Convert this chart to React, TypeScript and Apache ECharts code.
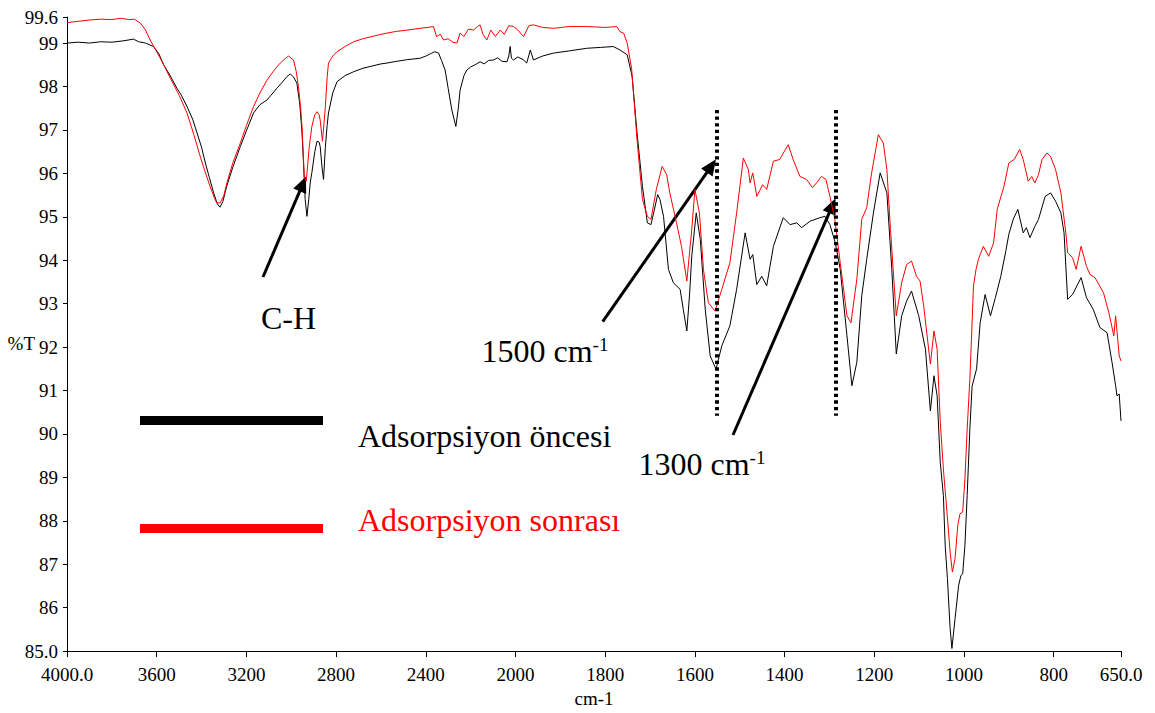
import React, { useEffect, useRef } from "react";
import * as echarts from "echarts";

// ---- Data (wavenumber cm-1, %T) ----
const blackWn = [
  4000, 3950, 3900, 3850, 3800, 3750, 3704, 3680, 3650, 3614, 3590, 3569, 3540, 3510, 3490, 3465, 3440, 3420, 3400, 3383,
  3365, 3346, 3330, 3318, 3305, 3288, 3260, 3227, 3200, 3168, 3140, 3108, 3090, 3064, 3040, 3019, 3005, 2990, 2975, 2962,
  2952, 2945, 2938, 2930, 2922, 2915, 2908, 2895, 2885, 2876, 2871, 2862, 2856, 2848, 2840, 2834, 2815, 2796, 2760, 2722,
  2680, 2640, 2600, 2573, 2530, 2480, 2425, 2400, 2373, 2360, 2343, 2330, 2314, 2300, 2284, 2266, 2255, 2247, 2230, 2217,
  2200, 2180, 2158, 2140, 2120, 2098, 2080, 2060, 2038, 2030, 2024, 2018, 2009, 1995, 1983, 1975, 1967, 1960, 1940, 1915,
  1880, 1841, 1810, 1782, 1767, 1751, 1740, 1729, 1717, 1706, 1698, 1692, 1683, 1678, 1670, 1659, 1648, 1633, 1626, 1618,
  1612, 1607, 1597, 1588, 1577, 1566, 1553, 1540, 1522, 1507, 1488, 1477, 1471, 1462, 1451, 1440, 1425, 1403, 1388, 1373,
  1362, 1343, 1321, 1310, 1299, 1287, 1276, 1261, 1250, 1239, 1228, 1217, 1202, 1187, 1172, 1161, 1151, 1139, 1128, 1117,
  1101, 1086, 1075, 1067, 1060, 1053, 1046, 1042, 1037, 1031, 1027, 1020, 1012, 1007, 1003, 998, 993, 987, 982, 972,
  964, 953, 941, 930, 918, 907, 900, 890, 880, 868, 861, 853, 842, 834, 819, 807, 796, 784, 777, 769,
  758, 739, 727, 712, 697, 681, 670, 662, 659, 654, 650,
];
const blackT = [
  99.0, 99.02, 99.0, 99.03, 99.02, 99.05, 99.09, 99.03, 99.0, 98.92, 98.75, 98.5, 98.25, 97.96, 97.8, 97.54, 97.25, 96.93, 96.6, 96.24,
  95.9, 95.55, 95.3, 95.22, 95.35, 95.7, 96.15, 96.62, 96.98, 97.39, 97.58, 97.69, 97.8, 97.96, 98.1, 98.23, 98.29, 98.22, 98.08, 97.6,
  96.93, 96.2, 95.4, 95.01, 95.4, 95.8, 96.02, 96.5, 96.74, 96.72, 96.62, 96.1, 95.86, 96.6, 97.1, 97.39, 97.85, 98.11, 98.25, 98.34,
  98.42, 98.47, 98.52, 98.54, 98.58, 98.62, 98.65, 98.7, 98.77, 98.8, 98.77, 98.6, 98.38, 97.95, 97.46, 97.08, 97.5, 97.92, 98.25, 98.38,
  98.45, 98.5, 98.57, 98.52, 98.6, 98.61, 98.66, 98.58, 98.57, 98.7, 98.92, 98.65, 98.61, 98.68, 98.62, 98.54, 98.84, 98.61, 98.7, 98.77,
  98.82, 98.88, 98.9, 98.92, 98.84, 98.73, 98.23, 96.93, 95.7, 94.86, 94.82, 95.09, 95.51, 95.4, 95.01, 93.79, 93.48, 93.33, 92.87, 92.37,
  93.2, 94.1, 95.09, 94.48, 92.87, 91.8, 91.49, 92.03, 92.49, 93.33, 94.63, 94.02, 94.13, 93.44, 93.63, 93.41, 94.32, 94.98, 94.82, 94.86,
  94.75, 94.9, 94.98, 95.01, 94.82, 94.4, 93.79, 92.26, 91.11, 91.65, 93.18, 94.02, 95.09, 96.01, 95.55, 93.79, 91.84, 92.72, 93.06, 93.29,
  92.72, 91.95, 90.53, 91.34, 90.88, 89.35, 88.58, 87.43, 86.67, 85.52, 85.06, 85.75, 86.51, 86.74, 86.78, 87.43, 88.58, 90.11, 91.1, 91.5,
  92.56, 93.21, 92.72, 93.14, 93.63, 94.2, 94.6, 94.95, 95.17, 94.63, 94.75, 94.52, 94.78, 94.94, 95.47, 95.55, 95.36, 95.09, 94.63, 93.1,
  93.21, 93.6, 93.14, 92.87, 92.45, 92.33, 91.65, 91.11, 90.88, 90.92, 90.3,
];

const redWn = [
  4000, 3950, 3900, 3850, 3800, 3762, 3720, 3700, 3673, 3650, 3629, 3584, 3539, 3500, 3465, 3435, 3406, 3385, 3362, 3340,
  3332, 3317, 3300, 3287, 3260, 3227, 3200, 3168, 3140, 3108, 3080, 3049, 3025, 3012, 2990, 2978, 2968, 2958, 2952, 2942,
  2933, 2920, 2908, 2895, 2885, 2876, 2871, 2861, 2849, 2840, 2834, 2815, 2796, 2760, 2722, 2680, 2640, 2600, 2573, 2530,
  2480, 2425, 2390, 2366, 2352, 2335, 2321, 2300, 2280, 2261, 2247, 2230, 2210, 2187, 2170, 2158, 2145, 2128, 2110, 2090,
  2068, 2050, 2030, 2009, 1995, 1982, 1970, 1960, 1940, 1915, 1880, 1841, 1800, 1774, 1767, 1759, 1751, 1741, 1729, 1717,
  1706, 1698, 1686, 1673, 1663, 1656, 1641, 1630, 1618, 1607, 1600, 1590, 1581, 1570, 1555, 1540, 1522, 1507, 1492, 1481,
  1477, 1471, 1462, 1449, 1440, 1425, 1411, 1392, 1381, 1366, 1351, 1338, 1329, 1318, 1308, 1299, 1288, 1276, 1261, 1252,
  1239, 1228, 1217, 1206, 1191, 1180, 1172, 1164, 1151, 1139, 1128, 1117, 1106, 1098, 1090, 1075, 1067, 1060, 1053, 1046,
  1038, 1031, 1026, 1020, 1014, 1009, 1003, 998, 993, 987, 983, 979, 973, 968, 957, 945, 934, 926, 911, 900,
  888, 876, 868, 857, 849, 842, 834, 826, 815, 807, 796, 784, 773, 769, 758, 750, 739, 727, 719, 708,
  689, 677, 666, 662, 654, 650,
];
const redT = [
  99.47, 99.5, 99.53, 99.55, 99.54, 99.57, 99.54, 99.55, 99.46, 99.3, 99.07, 98.65, 98.19, 97.8, 97.39, 96.9, 96.39, 96.05, 95.7, 95.4,
  95.32, 95.32, 95.5, 95.78, 96.25, 96.7, 97.1, 97.54, 97.85, 98.15, 98.35, 98.54, 98.65, 98.7, 98.61, 98.35, 98.0, 97.5, 97.08, 95.93,
  95.82, 96.6, 97.08, 97.35, 97.42, 97.35, 97.23, 96.74, 97.46, 98.2, 98.54, 98.7, 98.8, 98.92, 99.03, 99.1, 99.15, 99.2, 99.23, 99.27,
  99.3, 99.34, 99.36, 99.38, 99.15, 99.2, 99.07, 99.1, 99.02, 99.0, 99.23, 99.15, 99.32, 99.3, 99.38, 99.42, 99.2, 99.07, 99.3, 99.15,
  99.3, 99.2, 99.4, 99.38, 99.3, 99.15, 99.4, 99.42, 99.36, 99.34, 99.38, 99.38, 99.36, 99.38, 99.26, 99.23, 99.0, 98.4, 96.77, 95.4,
  95.01, 94.94, 95.63, 96.16, 95.97, 95.55, 94.86, 94.32, 93.52, 94.71, 95.63, 95.09, 93.79, 93.02, 92.83, 93.33, 93.94, 95.09, 96.35, 96.09,
  95.78, 96.01, 95.47, 95.74, 95.63, 96.28, 96.32, 96.66, 96.32, 95.93, 95.86, 95.67, 95.78, 95.93, 95.86, 95.47, 94.94, 93.94, 92.72, 92.56,
  93.56, 94.94, 95.21, 96.01, 96.89, 96.7, 96.09, 94.71, 92.72, 93.48, 93.9, 93.98, 93.63, 93.52, 92.95, 91.61, 92.37, 91.95, 90.27, 89.19,
  88.2, 87.28, 86.82, 87.13, 87.89, 88.16, 88.2, 88.96, 90.11, 91.26, 92.3, 93.4, 93.8, 94.02, 94.32, 94.09, 94.4, 95.17, 95.7, 96.24,
  96.32, 96.55, 96.32, 95.82, 95.93, 95.78, 95.97, 96.32, 96.47, 96.39, 96.09, 95.55, 94.63, 94.17, 94.06, 93.79, 94.32, 93.86, 93.67, 93.6,
  93.25, 92.79, 92.26, 92.72, 91.8, 91.68,
];

const xTickWn = [4000, 3600, 3200, 2800, 2400, 2000, 1800, 1600, 1400, 1200, 1000, 800, 650];
const yTicks = [85, 86, 87, 88, 89, 90, 91, 92, 93, 94, 95, 96, 97, 98, 99, 99.6];
const markerWn = [1552, 1285];
const markerRange = [97.46, 90.42];

const seriesNames = ["Adsorpsiyon öncesi", "Adsorpsiyon sonrası"];

// Abscissa is expanded 2x below 2000 cm-1 (instrument split scale)
const toU = (w: number) => (w >= 2000 ? 4000 - w : 2000 + (2000 - w) * 2);
const fromU = (u: number) => (u <= 2000 ? 4000 - u : 2000 - (u - 2000) / 2);

const FONT = "'Times New Roman', 'Liberation Serif', serif";

function arrow(x1: number, y1: number, x2: number, y2: number) {
  const dx = x2 - x1;
  const dy = y2 - y1;
  const len = Math.hypot(dx, dy);
  const ux = dx / len;
  const uy = dy / len;
  const L = 16;
  const W = 7;
  const bx = x2 - ux * L;
  const by = y2 - uy * L;
  return [
    {
      type: "line",
      silent: true,
      shape: { x1, y1, x2: bx + ux * 2, y2: by + uy * 2 },
      style: { stroke: "#000", lineWidth: 3 },
    },
    {
      type: "polygon",
      silent: true,
      shape: {
        points: [
          [x2, y2],
          [bx - uy * W, by + ux * W],
          [bx + uy * W, by - ux * W],
        ],
      },
      style: { fill: "#000" },
    },
  ];
}

export default function App() {
  const ref = useRef<HTMLDivElement>(null);

  useEffect(() => {
    if (!ref.current) return;
    const chart = echarts.init(ref.current, undefined, { renderer: "svg" });

    const blackData = blackWn.map((w, i) => [toU(w), blackT[i]]);
    const redData = redWn.map((w, i) => [toU(w), redT[i]]);

    const fmtX = (u: number) => {
      const w = Math.round(fromU(u));
      return w === 4000 || w === 650 ? w.toFixed(1) : String(w);
    };
    const fmtY = (v: number) => (v === 85 ? "85.0" : String(v));

    const legendBase = {
      left: 140,
      padding: 0,
      itemWidth: 183,
      itemHeight: 9,
      icon: "rect",
      selectedMode: false,
      formatter: (name: string) => `{t|${name}}`,
    };

    const option: any = {
      animation: false,
      backgroundColor: "#fff",
      textStyle: { fontFamily: FONT },
      grid: { left: 67, right: 34, top: 17, bottom: 60, containLabel: false },
      xAxis: {
        type: "value",
        min: 0,
        max: toU(650),
        name: "cm-1",
        nameLocation: "middle",
        nameGap: 35,
        nameTextStyle: { fontSize: 19, color: "#000", fontFamily: FONT },
        axisLine: { show: true, onZero: false, lineStyle: { color: "#000", width: 1 } },
        axisTick: { show: true, length: 6, customValues: xTickWn.map(toU), lineStyle: { color: "#000" } },
        axisLabel: {
          customValues: xTickWn.map(toU),
          formatter: fmtX,
          fontSize: 19,
          color: "#000",
          fontFamily: FONT,
          margin: 14,
        },
        splitLine: { show: false },
      },
      yAxis: {
        type: "value",
        min: 85,
        max: 99.6,
        name: "%T",
        nameLocation: "middle",
        nameRotate: 0,
        nameGap: 32,
        nameMoveOverlap: false,
        nameTextStyle: { fontSize: 19, color: "#000", fontFamily: FONT, verticalAlign: "top", align: "right" },
        axisLine: { show: true, lineStyle: { color: "#000", width: 1 } },
        axisTick: { show: true, length: 4, customValues: yTicks, lineStyle: { color: "#000" } },
        axisLabel: {
          customValues: yTicks,
          formatter: fmtY,
          fontSize: 19,
          color: "#000",
          fontFamily: FONT,
          margin: 9,
          padding: [0, 0, 8, 0],
        },
        splitLine: { show: false },
      },
      legend: [
        {
          ...legendBase,
          data: [seriesNames[0]],
          top: 416,
          textStyle: {
            rich: { t: { fontFamily: FONT, fontSize: 32, color: "#000", padding: [30, 0, 0, 30] } },
          },
        },
        {
          ...legendBase,
          data: [seriesNames[1]],
          top: 504,
          textStyle: {
            rich: { t: { fontFamily: FONT, fontSize: 32, color: "#ff0000", padding: [0, 0, 17, 30] } },
          },
        },
      ],
      series: [
        {
          name: seriesNames[0],
          type: "line",
          data: blackData,
          showSymbol: false,
          symbol: "none",
          color: "#000",
          lineStyle: { color: "#000", width: 1 },
          silent: true,
          markLine: {
            silent: true,
            symbol: "none",
            label: { show: false },
            lineStyle: { color: "#000", width: 4, type: [3.3, 3.3] },
            data: markerWn.map((w) => [
              { coord: [toU(w), markerRange[0]] },
              { coord: [toU(w), markerRange[1]] },
            ]),
          },
        },
        {
          name: seriesNames[1],
          type: "line",
          data: redData,
          showSymbol: false,
          symbol: "none",
          color: "#ff0000",
          lineStyle: { color: "#ff0000", width: 1 },
          silent: true,
        },
      ],
      graphic: [
        ...arrow(263, 277, 306, 176.5),
        ...arrow(602.7, 321.7, 716, 159.3),
        ...arrow(733, 435, 835.5, 198.3),
        {
          type: "text",
          x: 261,
          y: 317.5,
          silent: true,
          style: { text: "C-H", fontSize: 32, fontFamily: FONT, fill: "#000", verticalAlign: "middle" },
        },
        {
          type: "text",
          x: 481.5,
          y: 334.8,
          silent: true,
          style: {
            text: "{a|1500 cm}{b|-1}",
            fill: "#000",
            verticalAlign: "top",
            rich: {
              a: { fontSize: 32, fontFamily: FONT, fill: "#000" },
              b: { fontSize: 19, fontFamily: FONT, fill: "#000", verticalAlign: "top" },
            },
          },
        },
        {
          type: "text",
          x: 638.5,
          y: 448,
          silent: true,
          style: {
            text: "{a|1300 cm}{b|-1}",
            fill: "#000",
            verticalAlign: "top",
            rich: {
              a: { fontSize: 32, fontFamily: FONT, fill: "#000" },
              b: { fontSize: 19, fontFamily: FONT, fill: "#000", verticalAlign: "top" },
            },
          },
        },
      ],
    };

    chart.setOption(option);
    return () => chart.dispose();
  }, []);

  return (
    <div
      ref={ref}
      style={{ position: "absolute", left: 0, top: 0, width: 1155, height: 713, background: "#fff" }}
    />
  );
}
